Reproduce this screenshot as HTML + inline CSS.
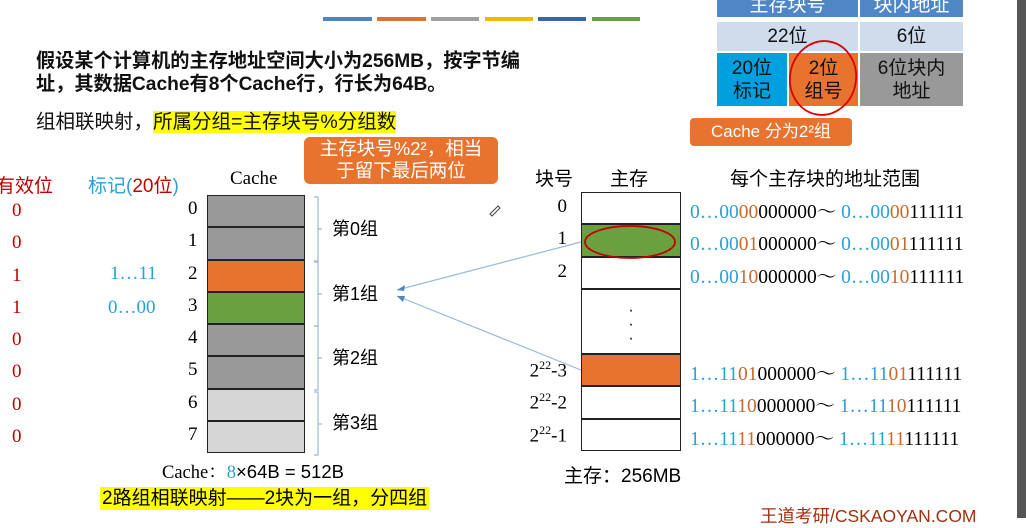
<!DOCTYPE html>
<html><head><meta charset="utf-8">
<style>
body{margin:0;width:1026px;height:518px;overflow:hidden;background:#fff;position:relative;font-family:"Liberation Sans","Noto Sans CJK SC",sans-serif}
.a{position:absolute;white-space:nowrap}
.s{font-family:"Liberation Serif","Noto Serif CJK SC",serif}
.b{color:#2aa0d8}.o{color:#c8692e}.r{color:#c00000}
.cell{position:absolute;display:flex;align-items:center;justify-content:center;text-align:center;font-size:19px;line-height:23px;color:#111}
</style></head><body>
<div>
<div class="a" style="left:323px;top:17px;width:49px;height:4px;background:#4e86c4"></div>
<div class="a" style="left:377px;top:17px;width:49px;height:4px;background:#e07030"></div>
<div class="a" style="left:431px;top:17px;width:48px;height:4px;background:#a0a0a0"></div>
<div class="a" style="left:485px;top:17px;width:48px;height:4px;background:#f2b800"></div>
<div class="a" style="left:538px;top:17px;width:48px;height:4px;background:#3a64b0"></div>
<div class="a" style="left:592px;top:17px;width:48px;height:4px;background:#6aa040"></div>
</div>
<div class="a" style="left:36px;top:50px;font-size:19.2px;font-weight:bold;line-height:23px;color:#111">假设某个计算机的主存地址空间大小为256MB，按字节编<br>址，其数据Cache有8个Cache行，行长为64B。</div>
<div class="a" style="left:36px;top:105px;font-size:19.5px;color:#111">组相联映射，<span style="background:#ffff00">所属分组=主存块号%分组数</span></div>
<div class="a" style="left:304px;top:137px;width:194px;height:46px;background:#e8732e;border-radius:6px;color:#fff;font-size:18.5px;line-height:22px;text-align:center;padding-top:1px">主存块号%2²，相当<br>于留下最后两位</div>
<div>
<div class="cell" style="left:717px;top:0;width:141px;height:17px;background:#4f87c6;color:#fff;align-items:flex-end">主存块号</div>
<div class="cell" style="left:860px;top:0;width:103px;height:17px;background:#4f87c6;color:#fff;align-items:flex-end">块内地址</div>
<div class="cell" style="left:717px;top:22px;width:141px;height:29px;background:#cfdcec">22位</div>
<div class="cell" style="left:860px;top:22px;width:103px;height:29px;background:#cfdcec">6位</div>
<div class="cell" style="left:717px;top:53px;width:70px;height:53px;background:#00a0e0">20位<br>标记</div>
<div class="cell" style="left:789px;top:53px;width:69px;height:53px;background:#e8732e">2位<br>组号</div>
<div class="cell" style="left:860px;top:53px;width:103px;height:53px;background:#999">6位块内<br>地址</div>
</div>
<div class="a" style="left:690px;top:118px;width:162px;height:28px;background:#e8732e;border-radius:4px;color:#fff;font-size:17px;line-height:28px;text-align:center">Cache 分为2²组</div>
<div class="a r" style="left:-4px;top:171px;font-size:19px">有效位</div>
<div class="a b" style="left:88px;top:171px;font-size:19px">标记(<span class="r">20位</span>)</div>
<div class="a s" style="left:230px;top:168px;font-size:19px">Cache</div>
<div class="a" style="left:535px;top:164px;font-size:19px">块号</div>
<div class="a" style="left:610px;top:164px;font-size:19px">主存</div>
<div class="a" style="left:730px;top:164px;font-size:19px">每个主存块的地址范围</div>
<div id="cache"></div>
<div class="a b s" style="left:110px;top:263px;font-size:19px">1…11</div>
<div class="a b s" style="left:108px;top:297px;font-size:19px">0…00</div>
<div id="mem"></div>
<div class="a" style="left:162px;top:458px;font-size:18.5px"><span class="s">Cache：</span><span class="b s">8</span>×64B = 512B</div>
<div class="a" style="left:100px;top:487px;font-size:19px;background:#ffff00;padding:0 2px;line-height:23px">2路组相联映射——2块为一组，分四组</div>
<div class="a" style="left:564px;top:461px;font-size:19px">主存：256MB</div>
<div class="a" style="left:760px;top:503px;font-size:17.5px;color:#a03010">王道考研/CSKAOYAN.COM</div>
<div class="a" style="left:1017px;top:0;width:9px;height:518px;background:#555"></div>
<svg class="a" style="left:0;top:0" width="1026" height="518">
<g fill="none" stroke="#9bbad8" stroke-width="1.2">
<path d="M314 197 h4 v32 h4 m-4 0 v32 h-4"/>
<path d="M314 262 h4 v32 h4 m-4 0 v32 h-4"/>
<path d="M314 326 h4 v32 h4 m-4 0 v32 h-4"/>
<path d="M314 392 h4 v32 h4 m-4 0 v31 h-4"/>
<line x1="581" y1="242" x2="397" y2="290"/>
<line x1="581" y1="370" x2="397" y2="296"/>
</g>
<path d="M397 290 l8 -5 l-1 6z M397 296 l6 6 l2 -6z" fill="#4e86c4"/>
<ellipse cx="630" cy="242" rx="45" ry="16" fill="none" stroke="#c00000" stroke-width="1.8"/>
<ellipse cx="823" cy="78" rx="33" ry="37" fill="none" stroke="#d00" stroke-width="1.8" transform="rotate(10 823 78)"/>
<path d="M490 214 l8 -8 l2 2 l-8 8z" fill="none" stroke="#444"/>
</svg>
<script>
const cacheRows=["0","1","2","3","4","5","6","7"];
const cacheColors=["#999","#999","#e8732e","#6aa040","#999","#999","#d6d6d6","#d6d6d6"];
const validBits=["0","0","1","1","0","0","0","0"];
const groups=["第0组","第1组","第2组","第3组"];
const memLabels=["0","1","2","","2<sup>22</sup>-3","2<sup>22</sup>-2","2<sup>22</sup>-1"];
const memColors=["#fff","#6aa040","#fff","#fff","#e8732e","#fff","#fff"];
const memSpan=[1,1,1,2,1,1,1];
const addrPrefix=["0…00","0…00","0…00","","1…11","1…11","1…11"];
const addrGroup=["00","01","10","","01","10","11"];
const c=document.getElementById('cache');
const top0=195,rh=32.25;
cacheRows.forEach((r,i)=>{
 const d=document.createElement('div');
 
 
 d.style.cssText=`position:absolute;left:207px;top:${top0+i*rh}px;width:96px;height:${rh-2}px;background:${cacheColors[i]};border:1px solid #222`;
 c.appendChild(d);
 const n=document.createElement('div');
 
 
 n.className='a s';n.style.cssText=`left:188px;top:${top0+i*rh+3}px;font-size:19px`;n.textContent=r;c.appendChild(n);
 const v=document.createElement('div');
 
 
 v.className='a s r';v.style.cssText=`left:12px;top:${top0+i*rh+5}px;font-size:19px`;v.textContent=validBits[i];c.appendChild(v);
});
groups.forEach((g,i)=>{
 const d=document.createElement('div');
 
 
 d.className='a';d.style.cssText=`left:332px;top:${top0+i*2*rh+20}px;font-size:18px`;d.textContent=g;c.appendChild(d);
});
const m=document.getElementById('mem');let y=192;const mh=32.4;
memLabels.forEach((l,i)=>{
 const h=mh*memSpan[i];
 const d=document.createElement('div');
 
 
 d.style.cssText=`position:absolute;left:581px;top:${y}px;width:98px;height:${h-2}px;background:${memColors[i]};border:1px solid #222;text-align:center;font-size:16px;line-height:14px;padding-top:0`;
 if(!l){d.innerHTML='<div style="padding-top:14px">·<br>·<br>·</div>';d.style.overflow='hidden'}
 m.appendChild(d);
 if(l){
  const n=document.createElement('div');
  
  
  n.className='a s';n.style.cssText=`right:${1026-567}px;top:${y+4}px;font-size:19px`;n.innerHTML=l.replace('<sup>','<sup style="font-size:12px">');m.appendChild(n);
  const a=document.createElement('div');
  
  
  a.className='a s';a.style.cssText=`left:690px;top:${y+4}px;font-size:19.5px`;
  a.innerHTML=`<span class="b">${addrPrefix[i]}</span><span class="o">${addrGroup[i]}</span>000000～ <span class="b">${addrPrefix[i]}</span><span class="o">${addrGroup[i]}</span>111111`;
  m.appendChild(a);
 }
 y+=h;
});
</script>
</body></html>
